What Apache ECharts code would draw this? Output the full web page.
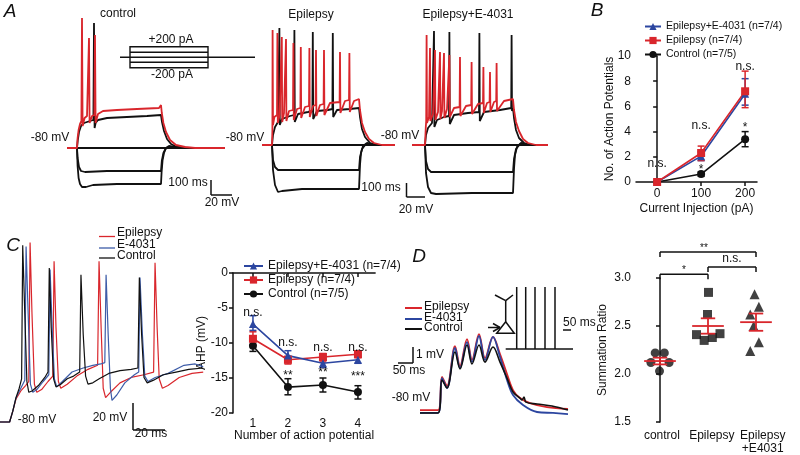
<!DOCTYPE html>
<html><head><meta charset="utf-8">
<script src="https://cdn.jsdelivr.net/npm/echarts@6.0.0/dist/echarts.min.js"></script>
<style>html,body{margin:0;padding:0;background:#fff}#c{width:800px;height:455px}</style>
</head><body><div id="c"></div>
<script>
// ---------- Panel A traces (time ms, membrane potential mV) ----------
const aCtrlHyp200 = [[0,-80],[50,-80],[53,-98],[58,-110],[65,-116],[75,-119],[95,-119],[130,-117],[250,-116],[470,-116],[473,-104],[478,-92],[485,-85],[495,-80],[510,-78],[540,-79],[600,-80],[790,-80]];
const aCtrlHyp100 = [[0,-80],[50,-80],[53,-90],[60,-99],[70,-103],[90,-104],[200,-103],[470,-103],[474,-93],[482,-85],[495,-80],[520,-79],[570,-80],[790,-80]];
const aCtrlZero = [[0,-80],[790,-80]];
const aCtrlDep100 = [[0,-80],[50,-80],[54,-72],[60,-64],[70,-58],[85,-55],[100,-54],[115,-53],[132,-52],[135,45],[138,-60],[143,-55],[155,-52],[200,-50],[300,-49],[400,-48],[470,-47],[475,-54],[485,-63],[500,-71],[520,-76],[550,-79],[600,-80],[790,-80]];
const aCtrlDep200 = [[0,-80],[50,-80],[53,-70],[58,-62],[65,-56],[72,-53],[75,50],[78,-58],[88,-50],[100,-48],[107,-47],[110,30],[113,-55],[125,-48],[137,-47],[140,33],[143,-55],[155,-46],[180,-43],[250,-42],[350,-41],[460,-40],[470,-37],[474,-45],[482,-55],[495,-64],[515,-72],[545,-77],[590,-79],[640,-80],[790,-80]];

const aEpiHyp200 = [[0,-80],[50,-80],[55,-105],[65,-120],[80,-127],[100,-126],[200,-124],[300,-124],[485,-124],[490,-100],[495,-88],[505,-81],[525,-78],[570,-80],[665,-80]];
const aEpiHyp100 = [[0,-80],[50,-80],[55,-95],[65,-102],[80,-105],[485,-105],[490,-92],[500,-84],[520,-79],[560,-80],[665,-80]];
const aEpiZero = [[0,-80],[665,-80]];
const aEpiDepBlack = [[0,-80],[50,-80],[55,-70],[65,-62],[80,-57],[85,-55],[87,37],[89,-60],[100,-54],[140,-51],[160,-50],[162,35],[164,-57],[180,-49],[230,-47],[252,-46],[254,33],[256,-54],[275,-46],[330,-45],[352,-44],[354,32],[356,-52],[375,-45],[440,-44],[485,-43],[490,-52],[500,-64],[515,-72],[540,-78],[580,-80],[665,-80]];
const aEpiDepRed = [[0,-80],[50,-80],[52,-65],[53,35],[55,-60],[62,-52],[75,-50],[77,32],[79,-58],[88,-50],[97,-48],[99,28],[101,-57],[110,-48],[118,-47],[120,26],[122,-56],[135,-46],[155,-45],[157,22],[159,-55],[175,-44],[192,-43],[194,18],[196,-53],[215,-42],[235,-41],[237,17],[239,-52],[255,-41],[268,-40],[270,15],[272,-51],[290,-40],[308,-39],[310,15],[312,-50],[340,-38],[388,-37],[390,13],[392,-48],[415,-36],[435,-35],[437,12],[439,-47],[460,-36],[485,-34],[490,-45],[500,-58],[515,-67],[535,-74],[560,-78],[600,-80],[665,-80]];

const aE40Hyp200 = [[0,-80],[65,-80],[70,-108],[80,-122],[95,-128],[120,-129],[300,-128],[505,-128],[510,-104],[515,-90],[525,-82],[545,-78],[590,-80],[680,-80]];
const aE40Hyp100 = [[0,-80],[65,-80],[70,-96],[80,-104],[95,-107],[505,-107],[510,-94],[520,-84],[540,-79],[580,-80],[680,-80]];
const aE40Zero = [[0,-80],[680,-80]];
const aE40DepBlack = [[0,-80],[65,-80],[70,-70],[80,-63],[100,-58],[108,-56],[110,34],[112,-62],[125,-55],[160,-52],[185,-51],[187,33],[189,-59],[210,-50],[280,-48],[335,-47],[337,32],[339,-56],[360,-47],[440,-45],[496,-43],[498,30],[500,-46],[505,-43],[510,-53],[520,-65],[535,-73],[560,-78],[600,-80],[680,-80]];
const aE40DepRed = [[0,-80],[65,-80],[69,-62],[71,-56],[73,30],[75,-58],[85,-52],[88,-50],[90,17],[92,-56],[105,-49],[113,-48],[115,15],[117,-55],[130,-47],[138,-46],[140,13],[142,-54],[150,-46],[158,-45],[160,12],[162,-53],[175,-44],[185,-44],[187,10],[189,-52],[210,-43],[238,-42],[240,8],[242,-51],[270,-41],[296,-40],[298,3],[300,-49],[330,-39],[355,-38],[357,-2],[359,-48],[375,-38],[388,-37],[390,-7],[392,-47],[410,-37],[421,-36],[423,2],[425,-46],[460,-36],[505,-34],[510,-45],[520,-57],[535,-66],[555,-74],[580,-78],[620,-80],[680,-80]];

// ---------- Panel B: number of APs vs current ----------
const injCurrent = [0, 100, 200];
const apCtrl = [0, 0.63, 3.4],  apCtrlLo = [0, 0.45, 2.8], apCtrlHi = [0, 0.8, 4.0];
const apEpi  = [0, 2.3, 7.2],   apEpiLo  = [0, 1.7, 5.9],  apEpiHi  = [0, 2.85, 8.8];
const apE40  = [0, 2.05, 7.0],  apE40Lo  = [0, 1.7, 6.1],  apE40Hi  = [0, 2.4, 8.2];
const bNotes = [[0,1.45,'n.s.'],[100,1.0,'*'],[100,4.45,'n.s.'],[200,4.3,'*'],[200,9.15,'n.s.']];

// ---------- Panel C left: AP train traces ----------
const cTrBlack = [[0,-80],[6,-80],[8,-72],[10,-62],[12,-55],[13.5,-48],[14.2,51],[15.5,0],[16.8,-50],[18,-58],[20,-57],[24,-53],[28,-47],[30,-43],[30.8,34],[32,-10],[33.5,-48],[35,-54],[38,-52],[42,-48],[46,-46],[49.8,-43],[50.6,29],[52,-15],[53.5,-46],[55,-52],[58,-51],[62,-48],[68,-44],[75,-42],[82,-41],[86.2,-40],[87.1,27],[88.5,-15],[90,-47],[92,-51],[96,-49],[102,-45],[110,-43],[118,-41],[127,-40]];
const cTrBlue = [[0,-80],[6,-80],[8,-72],[10,-62],[13,-55],[15.5,-49],[16.3,50],[17.6,0],[19,-52],[20.5,-58],[23,-56],[27,-50],[30.5,-45],[31.3,33],[32.6,-10],[34,-48],[35.5,-54],[39,-50],[45,-43],[52,-40],[58,-38],[63,-37],[65.5,-36],[66.3,29],[67.6,-15],[69,-55],[70,-64],[73,-60],[78,-51],[84,-45],[86.7,-43],[87.5,27],[89,-15],[90.5,-46],[92.5,-50],[97,-47],[105,-44],[115,-38],[122,-37],[127,-39]];
const cTrRed = [[0,-80],[6,-80],[8,-72],[10,-63],[13,-57],[16,-53],[18,-50],[18.8,53],[20,0],[21.5,-52],[23,-58],[26,-56],[30,-50],[33,-46],[33.8,39],[35,-10],[36.5,-50],[38,-55],[42,-52],[48,-46],[55,-41],[61,-38],[61.9,39],[63.2,-10],[64.5,-55],[66,-62],[69,-58],[75,-51],[82,-47],[90,-45],[96,-43],[96.9,38],[98.2,-10],[99.5,-48],[101.5,-55],[105,-53],[112,-47],[120,-44],[127,-43]];

// ---------- Panel C right: AHP ----------
const apNumber = [1, 2, 3, 4];
const ahpCtrl = [-10.4,-16.3,-16.0,-17.0], ahpCtrlLo = [-11.2,-17.4,-17.0,-18.0], ahpCtrlHi = [-9.6,-15.1,-15.0,-16.1];
const ahpEpi  = [-9.4,-12.4,-12.0,-11.6],  ahpEpiLo  = [-10.3,-13.0,-12.7,-12.1], ahpEpiHi  = [-8.4,-11.9,-11.5,-11.1];
const ahpE40  = [-7.3,-11.8,-12.9,-12.4],  ahpE40Lo  = [-8.2,-12.4,-13.5,-12.9], ahpE40Hi  = [-6.1,-11.1,-12.4,-12.0];
const cNotes = [[1,-5.6,'n.s.'],[2,-9.9,'n.s.'],[3,-10.6,'n.s.'],[4,-10.6,'n.s.'],[2,-14.6,'**'],[3,-14.2,'**'],[4,-14.8,'***']];

// ---------- Panel D left: EPSP summation traces ----------
const dTrBlue = [[0,-80.06],[60,-80.06],[73.3,-77.88],[90,-78.5],[116.7,-76.0],[133.3,-77.25],[156.7,-75.63],[173.3,-76.88],[196.7,-75.25],[216.7,-76.75],[243.3,-75.31],[266.7,-76.56],[290,-78.0],[310,-78.94],[343.3,-79.56],[390,-80.0],[443.3,-80.06],[493.3,-80.13]];
const dTrRed = [[0,-79.88],[60,-79.88],[73.3,-77.81],[90,-78.38],[116.7,-75.88],[133.3,-77.13],[156.7,-75.44],[173.3,-76.75],[196.7,-75.13],[216.7,-76.63],[243.3,-75.31],[266.7,-76.38],[290,-77.63],[310,-78.63],[333.3,-79.13],[366.7,-79.44],[423.3,-79.69],[493.3,-79.81]];
const dTrBlack = [[0,-80.06],[60,-80.06],[73.3,-78.0],[90,-78.5],[116.7,-76.25],[133.3,-77.31],[156.7,-75.81],[173.3,-77.0],[196.7,-75.81],[216.7,-76.88],[243.3,-75.94],[266.7,-76.88],[290,-77.88],[310,-78.75],[333.3,-79.13],[340,-79.25],[346.7,-79.06],[353.3,-79.38],[390,-79.5],[440,-79.63],[493.3,-79.88]];

// ---------- Panel D right: summation ratio ----------
const groupLabels = ['control', 'Epilepsy', 'Epilepsy\n+E4031'];
const sumCtrl = [[-0.1,2.22],[0.09,2.22],[-0.19,2.12],[0.19,2.12],[-0.01,2.03]];
const sumEpi  = [[1.01,2.85],[0.99,2.62],[0.76,2.41],[0.92,2.35],[1.09,2.38],[1.25,2.42]];
const sumE40  = [[1.97,2.83],[2.06,2.70],[1.88,2.62],[1.95,2.50],[2.06,2.33],[1.88,2.24]];
const sumMean = [2.135, 2.50, 2.54];
const sumSemLo = [2.10, 2.42, 2.45];
const sumSemHi = [2.17, 2.58, 2.63];
const sigBrackets = [[0,1,3.04,'*'],[1,2,3.115,'n.s.'],[0,2,3.27,'**']];

// ---------- rendering ----------
const F = '"Liberation Sans", Arial, Helvetica, sans-serif';
const RED = '#d9262c', BLUE = '#2c46a0', CBLUE = '#3d5ca8', BLK = '#111111';
const chart = echarts.init(document.getElementById('c'), null, {renderer: 'canvas'});

const grids = [
  {left: 67, top: 8, width: 160, height: 210},    // 0 A control
  {left: 262, top: 5, width: 140, height: 210},   // 1 A epilepsy
  {left: 412, top: 5, width: 140, height: 210},   // 2 A e4031
  {left: 636, top: 56, width: 121, height: 126},  // 3 B
  {left: 0, top: 233, width: 208, height: 202.5}, // 4 C traces
  {left: 233, top: 273, width: 142.1, height: 140}, // 5 C AHP
  {left: 420, top: 324, width: 150, height: 96},  // 6 D traces
  {left: 636, top: 278, width: 144, height: 144}  // 7 D ratio
].map(g => Object.assign({outerBoundsMode: 'none', containLabel: false}, g));

const axLine = {show: true, lineStyle: {color: BLK, width: 1.5}};
const axTick = {show: true, length: 4, inside: false, lineStyle: {color: BLK, width: 1.5}};
const axLab = {color: BLK, fontSize: 12, fontFamily: F};
const hid = (gi, min, max) => ({type: 'value', gridIndex: gi, min, max, show: false});

const xAxes = [
  hid(0, 0, 800), hid(1, 0, 700), hid(2, 0, 700),
  {type: 'value', gridIndex: 3, min: -48, max: 227, axisLine: axLine,
   axisTick: Object.assign({customValues: injCurrent}, axTick),
   axisLabel: Object.assign({customValues: injCurrent, margin: 6}, axLab),
   splitLine: {show: false}, name: 'Current Injection (pA)', nameLocation: 'middle', nameGap: 21,
   nameMoveOverlap: false, nameTextStyle: {color: BLK, fontSize: 12, fontFamily: F}},
  hid(4, 0, 130),
  {type: 'value', gridIndex: 5, min: 0.43, max: 4.49, axisLine: axLine,
   axisTick: Object.assign({customValues: apNumber}, axTick),
   axisLabel: Object.assign({customValues: apNumber, margin: 5}, axLab),
   splitLine: {show: false}, name: 'Number of action potential', nameLocation: 'middle', nameGap: 17,
   nameMoveOverlap: false, nameTextStyle: {color: BLK, fontSize: 12, fontFamily: F}},
  hid(6, 0, 500),
  {type: 'value', gridIndex: 7, min: -0.5, max: 2.5, axisLine: {show: false}, axisTick: {show: false},
   axisLabel: Object.assign({customValues: [0.04, 1.08, 2.14], margin: 7, lineHeight: 13,
     formatter: v => groupLabels[Math.round(v)]}, axLab),
   splitLine: {show: false}}
];
const yAxes = [
  hid(0, -150, 60), hid(1, -150, 60), hid(2, -150, 60),
  {type: 'value', gridIndex: 3, min: 0, max: 10, interval: 2, axisLine: axLine, axisTick: axTick,
   axisLabel: Object.assign({margin: 5}, axLab), splitLine: {show: false},
   name: 'No. of Action Potentials', nameLocation: 'middle', nameGap: 20, nameMoveOverlap: false,
   nameTextStyle: {color: BLK, fontSize: 12, fontFamily: F}},
  hid(4, -90, 60),
  {type: 'value', gridIndex: 5, min: -20, max: 0, interval: 5, axisLine: axLine, axisTick: axTick,
   axisLabel: Object.assign({margin: 5}, axLab), splitLine: {show: false},
   name: 'AHP (mV)', nameLocation: 'middle', nameGap: 25, nameMoveOverlap: false,
   nameTextStyle: {color: BLK, fontSize: 12, fontFamily: F}},
  hid(6, -80.5, -74.5),
  {type: 'value', gridIndex: 7, min: 1.5, max: 3.0, interval: 0.5, axisLine: axLine, axisTick: axTick,
   axisLabel: Object.assign({margin: 5, formatter: v => v.toFixed(1)}, axLab), splitLine: {show: false},
   name: 'Summation Ratio', nameLocation: 'middle', nameGap: 27, nameMoveOverlap: false,
   nameTextStyle: {color: BLK, fontSize: 12, fontFamily: F}}
];

const trace = (gi, data, color, w, smooth) => ({type: 'line', xAxisIndex: gi, yAxisIndex: gi, data, symbol: 'none',
  smooth: smooth || false, lineStyle: {color, width: w}, silent: true, z: 2});

function errBars(gi, xs, lo, hi, color, cap) {
  const data = xs.map((x, i) => [x, lo[i], hi[i]]).filter(d => d[2] > d[1]);
  return {type: 'custom', xAxisIndex: gi, yAxisIndex: gi, data, silent: true, z: 3, clip: false,
    encode: {x: 0, y: [1, 2]},
    renderItem: (p, api) => {
      const a = api.coord([api.value(0), api.value(1)]), b = api.coord([api.value(0), api.value(2)]);
      const st = {stroke: color, lineWidth: 1.5};
      return {type: 'group', children: [
        {type: 'line', shape: {x1: a[0], y1: a[1], x2: b[0], y2: b[1]}, style: st},
        {type: 'line', shape: {x1: a[0] - cap, y1: a[1], x2: a[0] + cap, y2: a[1]}, style: st},
        {type: 'line', shape: {x1: b[0] - cap, y1: b[1], x2: b[0] + cap, y2: b[1]}, style: st}]};
    }};
}
function notes(gi, items, size) {
  return {type: 'custom', xAxisIndex: gi, yAxisIndex: gi, data: items.map(d => [d[0], d[1]]), silent: true,
    z: 5, clip: false, encode: {x: 0, y: 1},
    renderItem: (p, api) => {
      const c = api.coord([api.value(0), api.value(1)]);
      return {type: 'text', x: c[0], y: c[1], style: {text: items[p.dataIndex][2], fill: BLK,
        font: size + 'px ' + F, textAlign: 'center', textVerticalAlign: 'middle', align: 'center', verticalAlign: 'middle'}};
    }};
}
const dataLine = (gi, name, xs, ys, color, symbol, size) => ({type: 'line', name, xAxisIndex: gi, yAxisIndex: gi,
  data: xs.map((x, i) => [x, ys[i]]), symbol, symbolSize: size, lineStyle: {color, width: 1.6},
  itemStyle: {color}, silent: true, z: 4});

const L1 = 'Epilepsy+E-4031 (n=7/4)', L2 = 'Epilepsy (n=7/4)', L3 = 'Control (n=7/5)';
const TW = 1.8;

const series = [
  // A control
  trace(0, aCtrlHyp200, BLK, TW), trace(0, aCtrlHyp100, BLK, TW), trace(0, aCtrlZero, BLK, TW),
  trace(0, aCtrlDep100, BLK, TW), trace(0, aCtrlDep200, RED, TW),
  // A epilepsy
  trace(1, aEpiHyp200, BLK, TW), trace(1, aEpiHyp100, BLK, TW), trace(1, aEpiZero, BLK, TW),
  trace(1, aEpiDepBlack, BLK, TW), trace(1, aEpiDepRed, RED, TW),
  // A e4031
  trace(2, aE40Hyp200, BLK, TW), trace(2, aE40Hyp100, BLK, TW), trace(2, aE40Zero, BLK, TW),
  trace(2, aE40DepBlack, BLK, TW), trace(2, aE40DepRed, RED, TW),
  // B
  dataLine(3, L3, injCurrent, apCtrl, BLK, 'circle', 8),
  dataLine(3, L1, injCurrent, apE40, BLUE, 'triangle', 8),
  dataLine(3, L2, injCurrent, apEpi, RED, 'rect', 8),
  errBars(3, injCurrent, apCtrlLo, apCtrlHi, BLK, 3.5),
  errBars(3, injCurrent, apE40Lo, apE40Hi, BLUE, 3.5),
  errBars(3, injCurrent, apEpiLo, apEpiHi, RED, 3.5),
  notes(3, bNotes, 12),
  // C traces
  trace(4, cTrRed, RED, 1.2), trace(4, cTrBlue, CBLUE, 1.2), trace(4, cTrBlack, BLK, 1.2),
  // C AHP
  dataLine(5, L3, apNumber, ahpCtrl, BLK, 'circle', 8),
  dataLine(5, L2, apNumber, ahpEpi, RED, 'rect', 8),
  dataLine(5, L1, apNumber, ahpE40, BLUE, 'triangle', 8),
  errBars(5, apNumber, ahpCtrlLo, ahpCtrlHi, BLK, 3.5),
  errBars(5, apNumber, ahpEpiLo, ahpEpiHi, RED, 3.5),
  errBars(5, apNumber, ahpE40Lo, ahpE40Hi, BLUE, 3.5),
  notes(5, cNotes, 12),
  // D traces
  trace(6, dTrRed, RED, 1.8, 0.35), trace(6, dTrBlue, BLUE, 1.8, 0.35), trace(6, dTrBlack, BLK, 1.6, 0.35),
  // D ratio
  {type: 'scatter', xAxisIndex: 7, yAxisIndex: 7, data: sumCtrl, symbol: 'circle', symbolSize: 9, itemStyle: {color: BLK}, silent: true, z: 3},
  {type: 'scatter', xAxisIndex: 7, yAxisIndex: 7, data: sumEpi, symbol: 'rect', symbolSize: 9, itemStyle: {color: BLK}, silent: true, z: 3},
  {type: 'scatter', xAxisIndex: 7, yAxisIndex: 7, data: sumE40, symbol: 'triangle', symbolSize: 10, itemStyle: {color: BLK}, silent: true, z: 3},
  {type: 'custom', xAxisIndex: 7, yAxisIndex: 7, silent: true, z: 4, clip: false,
   data: sumMean.map((m, i) => [i, m, sumSemLo[i], sumSemHi[i]]), encode: {x: 0, y: 1},
   renderItem: (p, api) => {
     const x = api.value(0);
     const m1 = api.coord([x - 0.33, api.value(1)]), m2 = api.coord([x + 0.33, api.value(1)]);
     const lo = api.coord([x, api.value(2)]), hi = api.coord([x, api.value(3)]);
     const c1 = api.coord([x - 0.15, 0])[0], c2 = api.coord([x + 0.15, 0])[0];
     const st = {stroke: RED, lineWidth: 1.8};
     return {type: 'group', children: [
       {type: 'line', shape: {x1: m1[0], y1: m1[1], x2: m2[0], y2: m2[1]}, style: st},
       {type: 'line', shape: {x1: lo[0], y1: lo[1], x2: hi[0], y2: hi[1]}, style: st},
       {type: 'line', shape: {x1: c1, y1: lo[1], x2: c2, y2: lo[1]}, style: st},
       {type: 'line', shape: {x1: c1, y1: hi[1], x2: c2, y2: hi[1]}, style: st}]};
   }},
  {type: 'custom', xAxisIndex: 7, yAxisIndex: 7, silent: true, z: 4, clip: false,
   data: sigBrackets.map(b => [b[0], b[1], b[2]]), encode: {x: 0, y: 2},
   renderItem: (p, api) => {
     const a = api.coord([api.value(0), api.value(2)]), b = api.coord([api.value(1), api.value(2)]);
     const st = {stroke: BLK, lineWidth: 1.5};
     const txt = sigBrackets[p.dataIndex][3];
     return {type: 'group', children: [
       {type: 'line', shape: {x1: a[0], y1: a[1], x2: b[0], y2: b[1]}, style: st},
       {type: 'line', shape: {x1: a[0], y1: a[1], x2: a[0], y2: a[1] + 5}, style: st},
       {type: 'line', shape: {x1: b[0], y1: b[1], x2: b[0], y2: b[1] + 5}, style: st},
       {type: 'text', x: (a[0] + b[0]) / 2 - (txt === '**' ? 4 : 0), y: a[1] - (txt === 'n.s.' ? 8 : 4),
        style: {text: txt, fill: BLK, font: (txt === 'n.s.' ? 12 : 10) + 'px ' + F,
          textAlign: 'center', textVerticalAlign: 'middle', align: 'center', verticalAlign: 'middle'}}]};
   }}
];

// ---------- decorations (labels, scale bars, schematics) ----------
function t(text, x, y, o = {}) {
  const al = o.align || 'center';
  return {type: 'text', x, y, silent: true, z: 10, style: {text, fill: o.color || BLK,
    font: (o.italic ? 'italic ' : '') + (o.size || 12) + 'px ' + F,
    textAlign: al, align: al, textVerticalAlign: 'middle', verticalAlign: 'middle'}};
}
function l(x1, y1, x2, y2, w = 1.5, c = BLK) {
  return {type: 'line', silent: true, z: 10, shape: {x1, y1, x2, y2}, style: {stroke: c, lineWidth: w}};
}
const graphic = [
  t('A', 10, 12, {size: 19, italic: true}), t('B', 597, 11, {size: 19, italic: true}),
  t('C', 13, 246, {size: 19, italic: true}), t('D', 419, 257, {size: 19, italic: true}),
  t('control', 118, 14), t('Epilepsy', 311, 15), t('Epilepsy+E-4031', 468, 15),
  t('+200 pA', 171, 40), t('-200 pA', 172, 75),
  t('-80 mV', 50, 138), t('-80 mV', 245, 138), t('-80 mV', 400, 136),
  t('100 ms', 188, 183), t('20 mV', 222, 203), t('100 ms', 381, 188), t('20 mV', 416, 210),
  l(211, 180, 211, 195), l(211, 195, 232, 195), l(406.5, 183, 406.5, 197), l(406.5, 197, 425, 197),
  l(120, 57.3, 255, 57.3, 1.4),
  {type: 'rect', silent: true, z: 10, shape: {x: 130, y: 46.7, width: 78, height: 21}, style: {fill: 'none', stroke: BLK, lineWidth: 1.4}},
  l(130, 52.3, 208, 52.3, 1.4), l(130, 62.3, 208, 62.3, 1.4),
  // C left legend + scale
  l(99, 236.5, 115, 236.5, 1.3, RED), l(99, 248, 115, 248, 1.3, CBLUE), l(99, 258, 115, 258, 1.3, BLK),
  t('Epilepsy', 117, 233, {align: 'left'}), t('E-4031', 117, 245, {align: 'left'}), t('Control', 117, 256, {align: 'left'}),
  t('-80 mV', 37, 420), t('20 mV', 110, 418), t('20 ms', 151, 434),
  l(133, 403, 133, 430), l(133, 430, 165, 430),
  // D left legend + scale
  l(405, 308, 422, 308, 2, RED), l(405, 319, 422, 319, 2, BLUE), l(405, 329, 422, 329, 2, BLK),
  t('Epilepsy', 424, 307, {align: 'left'}), t('E-4031', 424, 318, {align: 'left'}), t('Control', 424, 328, {align: 'left'}),
  l(413, 347, 413, 363), l(398, 363, 413, 363),
  t('1 mV', 416, 355, {align: 'left'}), t('50 ms', 409, 371), t('-80 mV', 411, 398),
  // neuron schematic + stimulus train
  l(505.7, 300.7, 505.7, 321.7), l(495, 295, 505.7, 300.7), l(513, 295, 505.7, 300.7),
  {type: 'polygon', silent: true, z: 10, shape: {points: [[505.7, 321.7], [496.7, 333.3], [514.3, 333.3]]}, style: {fill: 'none', stroke: BLK, lineWidth: 1.5}},
  l(488, 327.5, 500, 327.5), l(493, 323.5, 500, 327.5), l(493, 331.5, 500, 327.5),
  l(505.7, 349, 573, 349),
  l(516.7, 349, 516.7, 287), l(525.7, 349, 525.7, 287), l(535, 349, 535, 287), l(545, 349, 545, 287), l(555, 349, 555, 287),
  t('50 ms', 563, 323, {align: 'left'}), l(563, 330, 571, 330)
];

chart.setOption({
  animation: false,
  backgroundColor: '#ffffff',
  grid: grids, xAxis: xAxes, yAxis: yAxes,
  legend: [
    {orient: 'vertical', left: 644, top: 21, padding: 0, itemWidth: 16, itemHeight: 9, itemGap: 3, selectedMode: false,
     data: [L1, L2, L3], textStyle: {color: BLK, fontSize: 10.5, fontFamily: F}},
    {orient: 'vertical', left: 243, top: 260, padding: 0, itemWidth: 19, itemHeight: 9, itemGap: 2, selectedMode: false,
     data: [L1, L2, L3], textStyle: {color: BLK, fontSize: 12, fontFamily: F}}
  ],
  series, graphic
});
</script></body></html>
